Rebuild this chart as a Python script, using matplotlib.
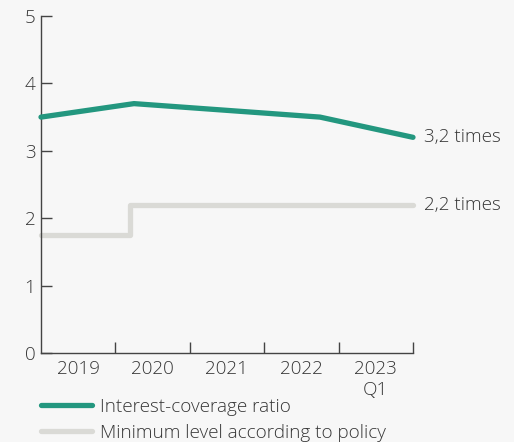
import matplotlib.pyplot as plt
from matplotlib.lines import Line2D

plt.rcParams['font.family'] = ['Open Sans', 'DejaVu Sans']

# Interest-coverage ratio, positions in years from start of 2019
icr_x = [0.0, 1.25, 3.75, 5.0]
icr_y = [3.5, 3.7, 3.5, 3.2]

# Minimum level according to policy (step change)
pol_x = [0.0, 1.2, 1.2, 5.0]
pol_y = [1.75, 1.75, 2.2, 2.2]

period_labels = ['2019', '2020', '2021', '2022', '2023\nQ1']
y_ticks = [0, 1, 2, 3, 4, 5]

green = '#23977f'
grey_line = '#dadad6'
text_col = '#363636'
bg = '#f7f7f7'
fs = 13.6
fw = 'light'

fig = plt.figure(figsize=(5.14, 4.42), dpi=100, facecolor=bg)
ax = fig.add_axes([41/514, 1-353/442, (413-41)/514, (353-16)/442])
ax.set_facecolor(bg)

ax.plot(pol_x, pol_y, color=grey_line, lw=3.8, solid_capstyle='round',
        solid_joinstyle='round', clip_on=False, zorder=2)
ax.plot(icr_x, icr_y, color=green, lw=3.8, solid_capstyle='round',
        solid_joinstyle='round', clip_on=False, zorder=3)

ax.set_xlim(0, 5)
ax.set_ylim(0, 5)

for s in ['top', 'right']:
    ax.spines[s].set_visible(False)
for s in ['left', 'bottom']:
    ax.spines[s].set_color('#444444')
    ax.spines[s].set_linewidth(1.0)

ax.set_yticks(y_ticks)
ax.set_yticklabels([str(v) for v in y_ticks], fontweight=fw)
ax.tick_params(axis='y', direction='in', length=8, width=1.0, color='#444444',
               labelsize=fs, labelcolor=text_col, pad=4)

ax.set_xticks([1, 2, 3, 4, 5])
ax.set_xticklabels([])
ax.set_xticks([i + 0.5 for i in range(len(period_labels))], minor=True)
ax.set_xticklabels(period_labels, minor=True, fontweight=fw)
ax.tick_params(axis='x', which='major', direction='in', length=8, width=1.0,
               color='#444444')
ax.tick_params(axis='x', which='minor', length=0, labelsize=fs,
               labelcolor=text_col, pad=5)
for lbl in ax.get_xticklabels(minor=True):
    lbl.set_linespacing(1.2)

# End labels
ax.annotate('3,2 times', xy=(icr_x[-1], icr_y[-1]), xytext=(11, 0),
            textcoords='offset pixels', va='center', ha='left',
            fontsize=fs, fontweight=fw, color=text_col, annotation_clip=False)
ax.annotate('2,2 times', xy=(pol_x[-1], pol_y[-1]), xytext=(11, 0),
            textcoords='offset pixels', va='center', ha='left',
            fontsize=fs, fontweight=fw, color=text_col, annotation_clip=False)

handles = [Line2D([], [], color=green, lw=3.8, solid_capstyle='round'),
           Line2D([], [], color=grey_line, lw=3.8, solid_capstyle='round')]
fig.legend(handles, ['Interest-coverage ratio', 'Minimum level according to policy'],
           loc='upper left', bbox_to_anchor=(41/514, 1-398/442), frameon=False,
           prop={'size': fs, 'weight': fw}, labelcolor=text_col, handlelength=2.7,
           handletextpad=0.42, labelspacing=0.42, borderpad=0, borderaxespad=0)

fig.savefig('out.png', dpi=100, facecolor=bg)
